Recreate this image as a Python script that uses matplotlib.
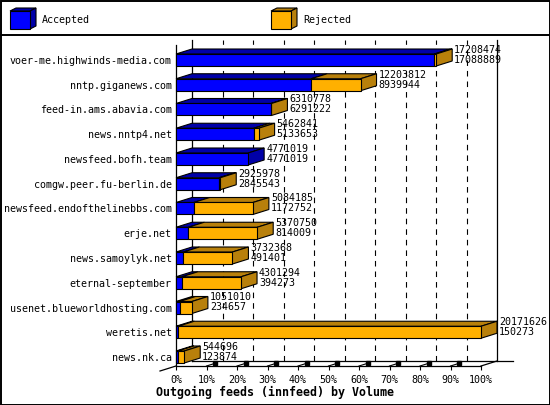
import matplotlib

matplotlib.use("Agg")
import matplotlib.pyplot as plt
from matplotlib.patches import Polygon, Rectangle

hosts = [
    "voer-me.highwinds-media.com",
    "nntp.giganews.com",
    "feed-in.ams.abavia.com",
    "news.nntp4.net",
    "newsfeed.bofh.team",
    "comgw.peer.fu-berlin.de",
    "newsfeed.endofthelinebbs.com",
    "erje.net",
    "news.samoylyk.net",
    "eternal-september",
    "usenet.blueworldhosting.com",
    "weretis.net",
    "news.nk.ca",
]
offered = [17208474, 12203812, 6310778, 5462841, 4771019, 2925978, 5084185,
           5370750, 3732368, 4301294, 1051010, 20171626, 544696]
accepted = [17088889, 8939944, 6291222, 5133653, 4771019, 2845543, 1172752,
            814009, 491401, 394273, 234657, 150273, 123874]
tick_pcts = [0, 10, 20, 30, 40, 50, 60, 70, 80, 90, 100]
title = "Outgoing feeds (innfeed) by Volume"

BLUE, BLUE_DARK = "#0000ff", "#0000a8"
ORANGE, ORANGE_DARK = "#ffb000", "#b8800b"
FONT = "DejaVu Sans Mono"
W, H = 550, 405

fig = plt.figure(figsize=(W / 100, H / 100), dpi=100)

# background layer in pixel space: frame, legend
bg = fig.add_axes([0, 0, 1, 1], zorder=0)
bg.set_xlim(0, W)
bg.set_ylim(H, 0)
bg.axis("off")
bg.add_patch(Rectangle((0.5, 0.5), W - 1, H - 1, fill=False, lw=1.4, ec="black"))
bg.plot([0, W], [35, 35], color="black", lw=1.4)


def legend_cube(x, color, dark, label):
    lw = 0.8
    bg.add_patch(Polygon([(x, 11), (x + 20, 11), (x + 26, 8), (x + 6, 8)], fc=dark, ec="black", lw=lw))
    bg.add_patch(Polygon([(x + 20, 11), (x + 26, 8), (x + 26, 26), (x + 20, 29)], fc=dark, ec="black", lw=lw))
    bg.add_patch(Rectangle((x, 11), 20, 18, fc=color, ec="black", lw=lw))
    bg.text(x + 32, 20, label, ha="left", va="center", family=FONT, fontsize=7.2)


legend_cube(10, BLUE, BLUE_DARK, "Accepted")
legend_cube(271, ORANGE, ORANGE_DARK, "Rejected")

# front plane axes: x in percent of max offered, y in rows
n = len(hosts)
left_px, right_px, top_px, bottom_px = 176, 481, 45, 366
row_px = 24.75
ax = fig.add_axes([left_px / W, 1 - bottom_px / H, (right_px - left_px) / W, (bottom_px - top_px) / H], zorder=1)
ax.patch.set_alpha(0)
ax.set_xlim(0, 100)
y_bottom = n - 1 + (bottom_px - 60 - (n - 1) * row_px) / row_px
y_top = -(60 - top_px) / row_px
ax.set_ylim(y_bottom, y_top)

px_x = 100 / (right_px - left_px)
px_y = 1 / row_px
DX = 16 * px_x
DY = -5 * px_y
HALF = 6 * px_y

scale = max(offered)
off_pct = [100 * v / scale for v in offered]
acc_pct = [100 * v / scale for v in accepted]

# back wall grid
for p in tick_pcts[1:-1]:
    ax.plot([p + DX, p + DX], [y_bottom + DY, y_top + DY], color="black", lw=0.8,
            ls=(0, (5, 4.5)), clip_on=False, zorder=1)
    ax.plot([p, p + DX * 0.55], [y_bottom, y_bottom + DY * 0.55], color="black", lw=0.8,
            clip_on=False, zorder=1)
    ax.plot([p + DX * 0.55], [y_bottom + DY * 0.55], marker="s", ms=2.2, color="black",
            clip_on=False, zorder=1)
line_kw = dict(color="black", lw=0.9, clip_on=False, zorder=1)
ax.plot([DX, DX], [y_bottom + DY, y_top + DY], **line_kw)
ax.plot([100 + DX, 100 + DX], [y_bottom + DY, y_top + DY], **line_kw)
ax.plot([DX, 100 + 2 * DX], [y_bottom + DY, y_bottom + DY], **line_kw)
ax.plot([100, 100 + DX], [y_bottom, y_bottom + DY], **line_kw)
ax.plot([-DX, 0], [y_bottom - DY, y_bottom], **line_kw)

# 3d bars
edge = dict(ec="black", lw=0.8, clip_on=False, zorder=3)
for i in range(n):
    yt, yb = i - HALF, i + HALF
    segs = [(0, acc_pct[i], BLUE, BLUE_DARK), (acc_pct[i], off_pct[i], ORANGE, ORANGE_DARK)]
    segs = [s for s in segs if s[1] - s[0] > 1e-9]
    for x0, x1, c, d in segs:
        ax.add_patch(Polygon([(x0, yt), (x1, yt), (x1 + DX, yt + DY), (x0 + DX, yt + DY)], fc=d, **edge))
    x0, x1, c, d = segs[-1]
    ax.add_patch(Polygon([(x1, yt), (x1 + DX, yt + DY), (x1 + DX, yb + DY), (x1, yb)], fc=d, **edge))
    for x0, x1, c, d in segs:
        ax.add_patch(Rectangle((x0, yt), x1 - x0, yb - yt, fc=c, **edge))
    tx = off_pct[i] + DX + 2 * px_x
    ax.text(tx, i - 10 * px_y, str(offered[i]), ha="left", va="center", family=FONT,
            fontsize=7.2, clip_on=False, zorder=4)
    ax.text(tx, i, str(accepted[i]), ha="left", va="center", family=FONT,
            fontsize=7.2, clip_on=False, zorder=4)

for s in ["top", "right"]:
    ax.spines[s].set_visible(False)
for s in ["left", "bottom"]:
    ax.spines[s].set_linewidth(0.9)
ax.set_xticks(tick_pcts)
ax.set_xticklabels([f"{p}%" for p in tick_pcts], family=FONT, fontsize=7.2)
ax.set_yticks(range(n))
ax.set_yticklabels(hosts, family=FONT, fontsize=7.2)
ax.tick_params(axis="x", length=3, width=0.8, pad=3.5)
ax.tick_params(axis="y", length=0, pad=3)

fig.text(0.5, 1 - 392 / H, title, ha="center", va="center", family=FONT,
         fontweight="bold", fontsize=8.4)

fig.savefig("out.png", dpi=100)
